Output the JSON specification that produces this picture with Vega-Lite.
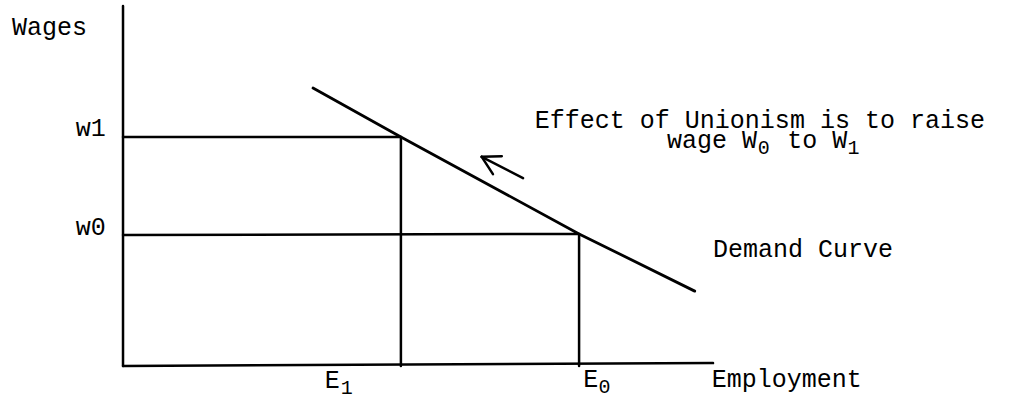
{
  "$schema": "https://vega.github.io/schema/vega-lite/v6.json",
  "width": 1023,
  "height": 402,
  "padding": 0,
  "autosize": {"type": "fit", "contains": "padding"},
  "background": "white",
  "config": {"view": {"stroke": null}},
  "datasets": {
    "segments": [
      {"part": "wage axis", "x": 0, "y": 0, "x2": 0, "y2": 100},
      {"part": "employment axis", "x": 0, "y": 0, "x2": 100, "y2": 0.8},
      {"part": "w1 level", "x": 0, "y": 63.6, "x2": 47.1, "y2": 63.6},
      {"part": "E1 level", "x": 47.1, "y": 0, "x2": 47.1, "y2": 63.6},
      {"part": "w0 level", "x": 0, "y": 36.4, "x2": 77.3, "y2": 36.7},
      {"part": "E0 level", "x": 77.3, "y": 0, "x2": 77.3, "y2": 36.7},
      {"part": "arrow shaft", "x": 67.8, "y": 52.2, "x2": 60.8, "y2": 58.1},
      {"part": "arrow head a", "x": 64.2, "y": 58.3, "x2": 60.8, "y2": 58.1},
      {"part": "arrow head b", "x": 62.7, "y": 53.3, "x2": 60.8, "y2": 58.1}
    ],
    "demand": [
      {"employment": 32.2, "wage": 77.2},
      {"employment": 47.1, "wage": 63.6},
      {"employment": 77.3, "wage": 36.7},
      {"employment": 96.9, "wage": 20.8}
    ],
    "labels": [
      {"text": "Wages", "x": -18.8, "y": 91.9},
      {"text": "w1", "x": -8.0, "y": 63.8},
      {"text": "w0", "x": -8.0, "y": 36.4},
      {"text": "E", "x": 34.2, "y": -6.1},
      {"text": "E", "x": 78.0, "y": -5.8},
      {"text": "Employment", "x": 99.8, "y": -5.8},
      {"text": "Demand Curve", "x": 100.0, "y": 30.3},
      {"text": "Effect of Unionism is to raise", "x": 69.8, "y": 66.1},
      {"text": "wage W", "x": 92.2, "y": 60.6},
      {"text": "to W", "x": 112.6, "y": 60.6}
    ],
    "subscripts": [
      {"text": "1", "x": 36.9, "y": -7.9},
      {"text": "0", "x": 80.6, "y": -7.6},
      {"text": "0", "x": 107.6, "y": 58.9},
      {"text": "1", "x": 122.8, "y": 58.9}
    ]
  },
  "layer": [
    {
      "data": {"name": "segments"},
      "mark": {"type": "rule", "color": "black", "strokeWidth": 2.5, "strokeCap": "round"},
      "encoding": {
        "x": {"field": "x", "type": "quantitative", "scale": {"domain": [-20.85, 152.54], "nice": false, "zero": false}, "axis": null},
        "y": {"field": "y", "type": "quantitative", "scale": {"domain": [-10, 101.67], "nice": false, "zero": false}, "axis": null},
        "x2": {"field": "x2"},
        "y2": {"field": "y2"}
      }
    },
    {
      "data": {"name": "demand"},
      "mark": {"type": "line", "color": "black", "strokeWidth": 2.8, "strokeCap": "round"},
      "encoding": {
        "x": {"field": "employment", "type": "quantitative"},
        "y": {"field": "wage", "type": "quantitative"}
      }
    },
    {
      "data": {"name": "labels"},
      "mark": {"type": "text", "font": "Liberation Mono", "fontSize": 25, "align": "left", "baseline": "alphabetic", "color": "black"},
      "encoding": {
        "x": {"field": "x", "type": "quantitative"},
        "y": {"field": "y", "type": "quantitative"},
        "text": {"field": "text"}
      }
    },
    {
      "data": {"name": "subscripts"},
      "mark": {"type": "text", "font": "Liberation Mono", "fontSize": 20, "align": "left", "baseline": "alphabetic", "color": "black"},
      "encoding": {
        "x": {"field": "x", "type": "quantitative"},
        "y": {"field": "y", "type": "quantitative"},
        "text": {"field": "text"}
      }
    }
  ]
}
